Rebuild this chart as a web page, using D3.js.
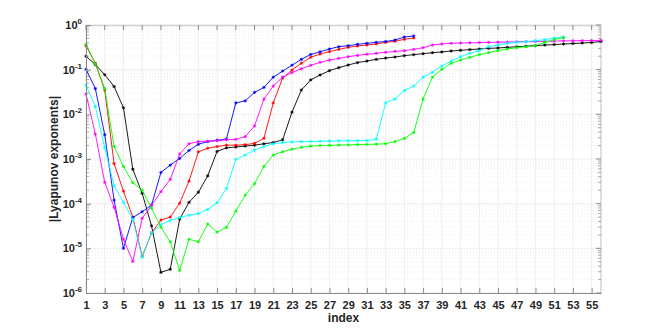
<!DOCTYPE html>
<html>
<head>
<meta charset="utf-8">
<script src="https://cdn.jsdelivr.net/npm/d3@7"></script>
<style>
body { margin: 0; background: #fff; }
text { font-family: "Liberation Sans", Arial, sans-serif; }
</style>
</head>
<body>
<svg id="chart" width="664" height="330"></svg>
<script>
// |Lyapunov exponents| per index, one array per run
var blackVals = [2.0e-1, 1.3e-1, 7.7e-2, 4.2e-2, 1.4e-2, 5.9e-4, 1.7e-4, 3.2e-5, 2.9e-6, 3.4e-6,
  4.5e-5, 1.07e-4, 1.8e-4, 4.2e-4, 1.48e-3, 1.78e-3, 1.86e-3, 1.95e-3, 2.04e-3, 2.19e-3,
  2.34e-3, 2.69e-3, 1.12e-2, 3.5e-2, 5.9e-2, 7.6e-2, 9.5e-2, 0.111, 0.127, 0.144,
  0.156, 0.170, 0.182, 0.192, 0.206, 0.217, 0.228, 0.240, 0.249, 0.262,
  0.271, 0.281, 0.290, 0.300, 0.306, 0.316, 0.325, 0.335, 0.345, 0.355,
  0.365, 0.375, 0.385, 0.395, 0.405, 0.43];
var redVals = [0.34, 0.139, 0.035, 7.9e-4, 1.9e-4, 5.0e-5, 6.6e-6, 2.2e-5, 4.3e-5, 5.0e-5,
  1.02e-4, 3.2e-4, 1.45e-3, 1.74e-3, 1.9e-3, 2.04e-3, 2.04e-3, 2.09e-3, 2.24e-3, 2.9e-3,
  1.8e-2, 6.5e-2, 9.8e-2, 0.139, 0.189, 0.224, 0.253, 0.285, 0.316, 0.339,
  0.356, 0.376, 0.409, 0.431, 0.478, 0.512];
var blueVals = [0.102, 0.0376, 3.5e-3, 1.2e-4, 1.0e-5, 4.9e-5, 6.6e-5, 9.3e-5, 5.0e-4, 7.3e-4,
  1.03e-3, 1.55e-3, 2.14e-3, 2.45e-3, 2.63e-3, 2.8e-3, 1.8e-2, 2.0e-2, 3.1e-2, 4.0e-2,
  6.8e-2, 9.3e-2, 0.126, 0.17, 0.219, 0.251, 0.29, 0.327, 0.344, 0.369,
  0.389, 0.409, 0.427, 0.461, 0.538, 0.568];
var magentaVals = [0.0285, 3.6e-3, 3.0e-4, 8.3e-5, 1.6e-5, 5.1e-6, 4.7e-5, 9.1e-5, 1.86e-4, 3.5e-4,
  1.29e-3, 2.19e-3, 2.45e-3, 2.5e-3, 2.57e-3, 2.69e-3, 2.75e-3, 3.16e-3, 5.5e-3, 2.2e-2,
  4.3e-2, 6.8e-2, 8.6e-2, 0.105, 0.125, 0.146, 0.164, 0.179, 0.195, 0.209,
  0.221, 0.232, 0.245, 0.257, 0.266, 0.285, 0.311, 0.356, 0.376, 0.389,
  0.395, 0.40, 0.404, 0.408, 0.412, 0.416, 0.42, 0.424, 0.428, 0.432,
  0.436, 0.44, 0.443, 0.446, 0.449, 0.452];
var cyanVals = [0.045, 0.0149, 1.8e-3, 2.5e-4, 1.07e-4, 4.5e-5, 6.3e-6, 2.2e-5, 3.4e-5, 4.2e-5,
  4.9e-5, 5.5e-5, 6.0e-5, 7.4e-5, 1.05e-4, 2.2e-4, 9.8e-4, 1.23e-3, 1.58e-3, 1.9e-3,
  2.19e-3, 2.34e-3, 2.4e-3, 2.45e-3, 2.47e-3, 2.5e-3, 2.52e-3, 2.54e-3, 2.56e-3, 2.58e-3,
  2.6e-3, 2.75e-3, 1.8e-2, 2.2e-2, 3.4e-2, 4.3e-2, 6.8e-2, 8.7e-2, 0.121, 0.156,
  0.195, 0.232, 0.266, 0.327, 0.356, 0.389, 0.409, 0.424, 0.446, 0.47,
  0.51, 0.535];
var greenVals = [0.37, 0.135, 0.038, 1.9e-3, 6.8e-4, 2.95e-4, 2.0e-4, 7.9e-5, 2.95e-5, 1.4e-5,
  3.2e-6, 1.6e-5, 1.4e-5, 3.5e-5, 2.3e-5, 2.95e-5, 6.8e-5, 1.55e-4, 2.8e-4, 6.8e-4,
  1.23e-3, 1.45e-3, 1.66e-3, 1.82e-3, 1.95e-3, 2.0e-3, 2.02e-3, 2.05e-3, 2.07e-3, 2.1e-3,
  2.12e-3, 2.15e-3, 2.2e-3, 2.45e-3, 2.9e-3, 3.9e-3, 2.2e-2, 6.8e-2, 0.102, 0.139,
  0.164, 0.189, 0.217, 0.24, 0.266, 0.29, 0.311, 0.327, 0.344, 0.41,
  0.47, 0.52];

var xTicks = d3.range(1, 56, 2);
var yTicks = [1e-6, 1e-5, 1e-4, 1e-3, 1e-2, 1e-1, 1];

var series = [
  { name: "black", color: "#000000", values: blackVals },
  { name: "red", color: "#ff0000", values: redVals },
  { name: "blue", color: "#0000ff", values: blueVals },
  { name: "magenta", color: "#ff00ff", values: magentaVals },
  { name: "cyan", color: "#00ffff", values: cyanVals },
  { name: "green", color: "#00ff00", values: greenVals }
];

var svg = d3.select("#chart");
var margin = { top: 25, right: 63, bottom: 37, left: 86 },
  width = 664 - margin.left - margin.right,
  height = 330 - margin.top - margin.bottom;

var g = svg.append("g")
  .attr("transform", "translate(" + margin.left + "," + margin.top + ")");

var x = d3.scaleLinear().domain([1, 56]).range([0, width]);
var y = d3.scaleLog().domain([1e-6, 1]).range([height, 0]);

// minor y values 2..9 per decade
var minorY = [];
for (var e = -6; e < 0; e++) {
  for (var k = 2; k <= 9; k++) minorY.push(k * Math.pow(10, e));
}

// grid
g.append("g").selectAll("line").data(minorY).enter().append("line")
  .attr("x1", 0).attr("x2", width)
  .attr("y1", function(d) { return y(d); }).attr("y2", function(d) { return y(d); })
  .attr("stroke", "#e2e2e2").attr("stroke-width", 0.6).attr("stroke-dasharray", "1,2");
g.append("g").selectAll("line").data(yTicks).enter().append("line")
  .attr("x1", 0).attr("x2", width)
  .attr("y1", function(d) { return y(d); }).attr("y2", function(d) { return y(d); })
  .attr("stroke", "#ebebeb").attr("stroke-width", 0.8);
g.append("g").selectAll("line").data(xTicks).enter().append("line")
  .attr("y1", 0).attr("y2", height)
  .attr("x1", function(d) { return x(d); }).attr("x2", function(d) { return x(d); })
  .attr("stroke", "#ebebeb").attr("stroke-width", 0.8);

// box (top and right)
g.append("line").attr("x1", 0).attr("x2", width).attr("y1", 0.5).attr("y2", 0.5)
  .attr("stroke", "#d4d4d4").attr("stroke-width", 1.5);
g.append("line").attr("x1", width).attr("x2", width).attr("y1", 0).attr("y2", height)
  .attr("stroke", "#d4d4d4").attr("stroke-width", 1.5);

// top and right ticks
g.append("g").selectAll("line").data(xTicks).enter().append("line")
  .attr("x1", function(d) { return x(d); }).attr("x2", function(d) { return x(d); })
  .attr("y1", 0).attr("y2", 5).attr("stroke", "#8a8a8a");
g.append("g").selectAll("line").data(yTicks).enter().append("line")
  .attr("x1", width - 5).attr("x2", width)
  .attr("y1", function(d) { return y(d); }).attr("y2", function(d) { return y(d); })
  .attr("stroke", "#8a8a8a");
g.append("g").selectAll("line").data(minorY).enter().append("line")
  .attr("x1", width - 3).attr("x2", width)
  .attr("y1", function(d) { return y(d); }).attr("y2", function(d) { return y(d); })
  .attr("stroke", "#8a8a8a").attr("stroke-width", 0.7);
g.append("g").selectAll("line").data(minorY).enter().append("line")
  .attr("x1", 0).attr("x2", 3)
  .attr("y1", function(d) { return y(d); }).attr("y2", function(d) { return y(d); })
  .attr("stroke", "#8a8a8a").attr("stroke-width", 0.7);

// series
var line = d3.line()
  .x(function(d, i) { return x(i + 1); })
  .y(function(d) { return y(d); });

var star = "M-1.6,0H1.6M0,-1.6V1.6M-1.1,-1.1L1.1,1.1M-1.1,1.1L1.1,-1.1";

series.forEach(function(s) {
  var sg = g.append("g").attr("class", "series-" + s.name);
  sg.append("path")
    .datum(s.values)
    .attr("fill", "none")
    .attr("stroke", s.color)
    .attr("stroke-width", 0.9)
    .attr("d", line);
  sg.selectAll("path.mk").data(s.values).enter().append("path")
    .attr("class", "mk")
    .attr("d", star)
    .attr("stroke", s.color)
    .attr("stroke-width", 0.8)
    .attr("transform", function(d, i) { return "translate(" + x(i + 1) + "," + y(d) + ")"; });
});

// axes
var xAxis = g.append("g")
  .attr("transform", "translate(0," + height + ")")
  .call(d3.axisBottom(x).tickValues(xTicks).tickSizeInner(-5).tickSizeOuter(0).tickPadding(8));
var yAxis = g.append("g")
  .call(d3.axisLeft(y).tickValues(yTicks).tickSizeInner(-5).tickSizeOuter(0).tickPadding(4));

[xAxis, yAxis].forEach(function(a) {
  a.select(".domain").attr("stroke", "#8a8a8a");
  a.selectAll(".tick line").attr("stroke", "#8a8a8a");
  a.selectAll("text")
    .attr("fill", "#262626")
    .style("font-size", "11px")
    .style("font-weight", "bold")
    .style("font-family", "'Liberation Sans', Arial, sans-serif");
});

yAxis.selectAll(".tick text").each(function(d) {
  var t = d3.select(this);
  var ex = Math.round(Math.log10(d));
  t.text(null);
  t.append("tspan").text("10");
  t.append("tspan").attr("dy", "-5").style("font-size", "8px").text(ex);
});

// labels
svg.append("text")
  .attr("x", margin.left + x(28.5))
  .attr("y", 322)
  .attr("text-anchor", "middle")
  .style("font-size", "12px")
  .style("font-weight", "bold")
  .attr("fill", "#262626")
  .text("index");

svg.append("text")
  .attr("transform", "translate(58," + (margin.top + height / 2) + ") rotate(-90)")
  .attr("text-anchor", "middle")
  .style("font-size", "12px")
  .style("font-weight", "bold")
  .attr("fill", "#262626")
  .text("|Lyapunov exponents|");
</script>
</body>
</html>
